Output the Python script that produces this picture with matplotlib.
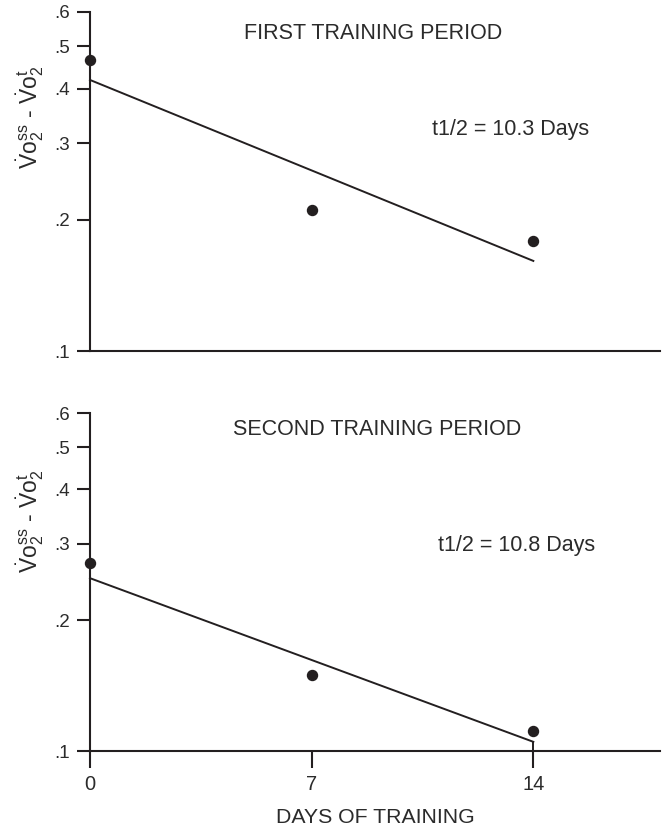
import matplotlib
matplotlib.use("Agg")
import matplotlib.pyplot as plt

plt.rcParams['font.family'] = ['Liberation Sans', 'DejaVu Sans']
plt.rcParams['mathtext.fontset'] = 'custom'
plt.rcParams['mathtext.rm'] = 'Liberation Sans'
plt.rcParams['mathtext.it'] = 'Liberation Sans:italic'

# data
days = [0, 7, 14]
first_pts = [0.466, 0.211, 0.179]
first_fit = [0.419, 0.161]
second_pts = [0.271, 0.150, 0.111]
second_fit = [0.250, 0.105]
fit_days = [0, 14]

yticks = [0.1, 0.2, 0.3, 0.4, 0.5, 0.6]
ytick_labels = ['.1', '.2', '.3', '.4', '.5', '.6']

ink = '#231f20'
txt = '#2b2b2b'
ylabel = (r'$\dot{\mathrm{V}}\mathrm{o}_2^{\mathrm{ss}}$ - '
          r'$\dot{\mathrm{V}}\mathrm{o}_2^{\mathrm{t}}$')

fig = plt.figure(figsize=(6.64, 8.33), dpi=100)
ax1 = fig.add_axes([0.1355, 0.5786, 0.8585, 0.407])
ax2 = fig.add_axes([0.1355, 0.0984, 0.8585, 0.4058])

panels = [
    (ax1, first_pts, first_fit, 0.69),
    (ax2, second_pts, second_fit, 0.68),
]

for ax, pts, fit, ly in panels:
    ax.set_yscale('log')
    ax.set_ylim(0.1, 0.6)
    ax.set_xlim(0, 18)
    ax.plot(fit_days, fit, color=ink, lw=1.4, clip_on=False)
    ax.plot(days, pts, 'o', color=ink, ms=7.2, clip_on=False)
    ax.set_yticks(yticks)
    ax.set_yticklabels(ytick_labels)
    ax.yaxis.set_minor_locator(matplotlib.ticker.NullLocator())
    for s in ['top', 'right']:
        ax.spines[s].set_visible(False)
    for s in ['left', 'bottom']:
        ax.spines[s].set_linewidth(1.5)
        ax.spines[s].set_color(ink)
    ax.tick_params(axis='y', direction='out', length=9.5, width=1.5, color=ink,
                   labelsize=13.5, labelcolor=txt, pad=5)
    ax.set_ylabel(ylabel, fontsize=16.5, color=txt)
    ax.yaxis.set_label_coords(-0.078, ly)
    ax.set_facecolor('none')

ax1.text(0.496, 0.938, 'FIRST TRAINING PERIOD', transform=ax1.transAxes,
         ha='center', va='center', fontsize=15.5, color=txt)
ax1.text(0.60, 0.652, 't1/2 = 10.3 Days', transform=ax1.transAxes,
         ha='left', va='center', fontsize=15.5, color=txt)
ax2.text(0.504, 0.95, 'SECOND TRAINING PERIOD', transform=ax2.transAxes,
         ha='center', va='center', fontsize=15.5, color=txt)
ax2.text(0.61, 0.609, 't1/2 = 10.8 Days', transform=ax2.transAxes,
         ha='left', va='center', fontsize=15.5, color=txt)

# small vertical stroke joining the last fit value to the axis
ax2.vlines(days[-1], 0.1, second_fit[-1], color=ink, lw=1.4)

ax1.set_xticks([])
ax2.set_xticks(days)
ax2.tick_params(axis='x', direction='out', length=12.5, width=1.5, color=ink,
                labelsize=14.5, labelcolor=txt, pad=5)
ax2.set_xlabel('DAYS OF TRAINING', fontsize=15.3, color=txt, labelpad=10)

fig.savefig('out.png', dpi=100)
